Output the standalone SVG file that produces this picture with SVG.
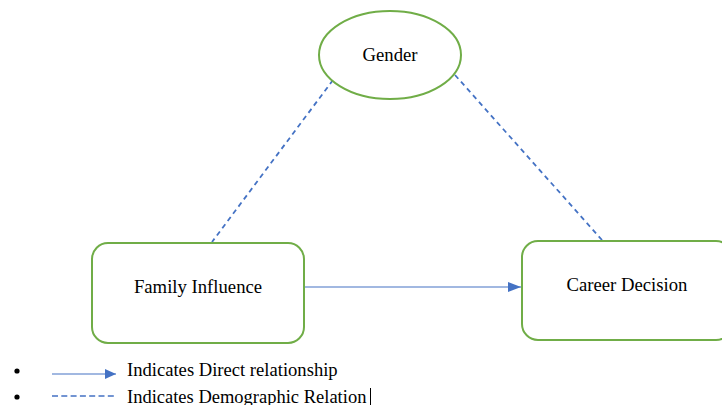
<svg xmlns="http://www.w3.org/2000/svg" width="722" height="405" viewBox="0 0 722 405">
<defs>
<marker id="ah" markerWidth="11" markerHeight="10" refX="11" refY="5" orient="auto" markerUnits="userSpaceOnUse"><path d="M0,0 L11,5 L0,10 z" fill="#4472C4"/></marker>
<marker id="ah2" markerWidth="13" markerHeight="10" refX="13" refY="5" orient="auto" markerUnits="userSpaceOnUse"><path d="M0,0 L13,5 L0,10 z" fill="#4472C4"/></marker>
</defs>
<style>
.node{fill:#fff;stroke:#70AD47;stroke-width:2}
.t{font-family:"Liberation Serif","Times New Roman",serif;font-size:18.7px;fill:#000}
.dash{stroke:#4472C4;stroke-width:1.8;stroke-dasharray:5,4;fill:none}
.solid{stroke:#4472C4;stroke-width:1.2;fill:none}
</style>
<rect width="722" height="405" fill="#fff"/>
<g id="connectors">
<line class="dash" x1="333" y1="80" x2="212" y2="242"/>
<line class="dash" x1="455" y1="75" x2="602" y2="240"/>
<line class="solid" x1="304" y1="287" x2="521" y2="287" marker-end="url(#ah2)"/>
</g>
<g id="gender">
<ellipse class="node" cx="390" cy="55" rx="71" ry="44"/>
<text class="t" x="390" y="61" text-anchor="middle">Gender</text>
</g>
<g id="family">
<rect class="node" x="92" y="243" width="212" height="100" rx="16"/>
<text class="t" x="198" y="293" text-anchor="middle">Family Influence</text>
</g>
<g id="career">
<rect class="node" x="522" y="241" width="210" height="99" rx="16"/>
<text class="t" x="627" y="291" text-anchor="middle">Career Decision</text>
</g>
<g id="legend">
<circle cx="17" cy="371" r="2.6" fill="#000"/>
<circle cx="17" cy="397" r="2.6" fill="#000"/>
<line class="solid" x1="52" y1="374" x2="116" y2="374" marker-end="url(#ah)"/>
<line x1="52" y1="396" x2="117" y2="396" stroke="#4472C4" stroke-width="1.5" stroke-dasharray="6,3.3"/>
<text class="t" x="127" y="376" style="font-size:18.6px">Indicates Direct relationship</text>
<text class="t" x="127" y="402.5" style="font-size:18.5px">Indicates Demographic Relation</text>
<line x1="370.5" y1="388" x2="370.5" y2="405" stroke="#000" stroke-width="1"/>
</g>
</svg>
